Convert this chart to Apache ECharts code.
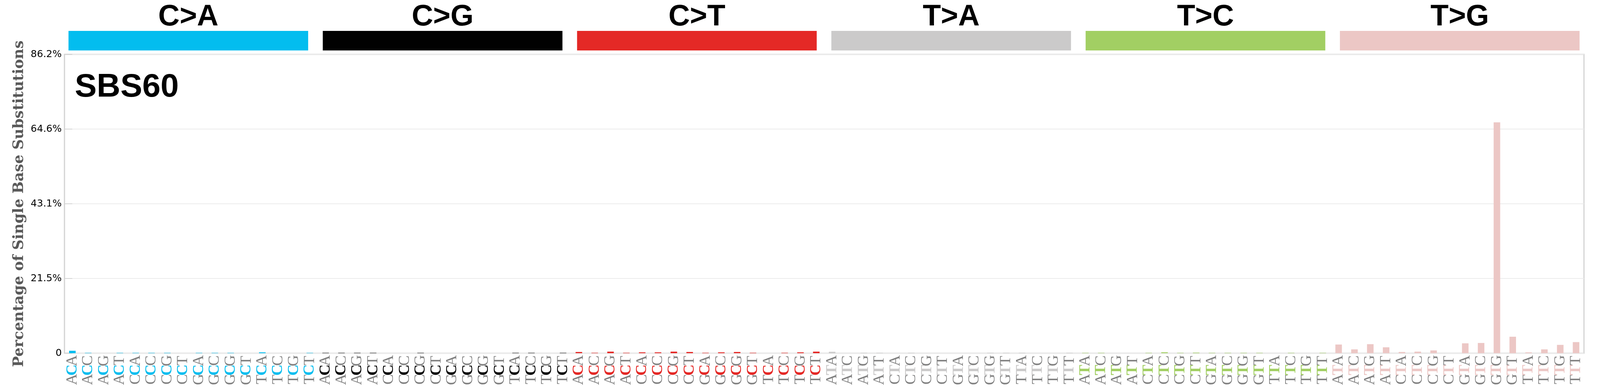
<!DOCTYPE html>
<html>
<head>
<meta charset="utf-8">
<title>SBS60</title>
<script src="https://cdn.jsdelivr.net/npm/echarts@6/dist/echarts.min.js"></script>
<style>
  html, body { margin: 0; padding: 0; background: #fff; overflow: hidden; }
  #main { width: 100vw; height: 100vh; }
</style>
</head>
<body>
<div id="main"></div>
<script>
// mutation classes and their colours
var mutTypes = ['C>A', 'C>G', 'C>T', 'T>A', 'T>C', 'T>G'];
var typeColors = ['#03bdef', '#010101', '#e42926', '#cbcaca', '#a2cf63', '#ecc7c5'];

// 5' and 3' flanking bases for the 16 contexts of each class
var flank5 = ['A','A','A','A','C','C','C','C','G','G','G','G','T','T','T','T'];
var flank3 = ['A','C','G','T','A','C','G','T','A','C','G','T','A','C','G','T'];

// percentages
var valsCA = [0.7, 0.1, 0, 0.1, 0.1, 0.1, 0.1, 0, 0.1, 0.1, 0.1, 0, 0.25, 0, 0, 0.1];
var valsCG = [0.1, 0.1, 0.1, 0.1, 0, 0, 0.1, 0, 0, 0, 0, 0, 0.1, 0.1, 0, 0.1];
var valsCT = [0.35, 0.12, 0.45, 0.12, 0.25, 0.25, 0.45, 0.35, 0.12, 0.25, 0.35, 0.12, 0, 0.12, 0.25, 0.45];
var valsTA = [0.4, 0, 0.1, 0.1, 0, 0.1, 0, 0, 0, 0, 0.1, 0.1, 0.1, 0, 0, 0.1];
var valsTC = [0.1, 0.1, 0, 0, 0.1, 0.27, 0.1, 0.15, 0.1, 0.1, 0.1, 0.1, 0, 0.1, 0, 0.1];
var valsTG = [2.5, 1.1, 2.6, 1.7, 0.35, 0.45, 0.8, 0, 2.85, 2.95, 66.6, 4.75, 0.25, 1.1, 2.4, 3.2];

var yMax = 86.2;
var yTickLabels = ['0', '21.5%', '43.1%', '64.6%', '86.2%'];

var allVals = [valsCA, valsCG, valsCT, valsTA, valsTC, valsTG];
var categories = [];
var values = [];
mutTypes.forEach(function (t, g) {
    var ref = t.charAt(0);
    for (var i = 0; i < 16; i++) {
        categories.push(flank5[i] + ref + flank3[i]);
        values.push(allVals[g][i]);
    }
});

// layout was measured on a 4393 px wide figure; scale horizontally to the real window
var sx = window.innerWidth / 4393;

// each base gets a fixed-width cell, like a typewriter font
var rich = {
    f: { fontFamily: 'Liberation Serif', fontSize: 40, color: '#808080', width: 24, align: 'center' }
};
typeColors.forEach(function (c, g) {
    rich['m' + g] = { fontFamily: 'Liberation Serif', fontSize: 40, fontWeight: 'bold', color: c, width: 24, align: 'center' };
});

var myChart = echarts.init(document.getElementById('main'));

var option = {
    animation: false,
    title: {
        text: 'SBS60',
        left: 200 * sx,
        top: 177,
        textStyle: { fontFamily: 'Liberation Sans', fontWeight: 'bold', fontSize: 84, color: '#000' }
    },
    grid: [
        { left: 177 * sx, right: 44 * sx, top: 139, bottom: 89, show: true, borderColor: '#d3d3d3', borderWidth: 3 },
        { left: 168 * sx, right: 36 * sx, top: 79, height: 50 }
    ],
    xAxis: [{
        type: 'category',
        data: categories,
        gridIndex: 0,
        axisLine: { show: false },
        axisTick: { show: false },
        axisLabel: {
            interval: 0,
            rotate: 90,
            margin: 7,
            formatter: function (v, idx) {
                var g = Math.floor(idx / 16);
                return '{f|' + v.charAt(0) + '}{m' + g + '|' + v.charAt(1) + '}{f|' + v.charAt(2) + '}';
            },
            rich: rich
        }
    }, {
        type: 'category',
        data: mutTypes,
        gridIndex: 1,
        show: false
    }],
    yAxis: [{
        type: 'value',
        gridIndex: 0,
        min: 0,
        max: yMax,
        interval: yMax / 4,
        name: 'Percentage of Single Base Substitutions',
        nameLocation: 'middle',
        nameGap: 95,
        nameTextStyle: { fontFamily: 'DejaVu Serif', fontWeight: 'bold', fontSize: 37, color: '#595959' },
        axisLine: { show: false },
        axisTick: { show: true, inside: true, length: 20, lineStyle: { color: '#d3d3d3', width: 2 } },
        axisLabel: {
            margin: 7,
            fontFamily: 'DejaVu Sans',
            fontSize: 25,
            color: '#000',
            formatter: function (v) {
                return yTickLabels[Math.round(v / (yMax / 4))];
            }
        },
        splitLine: { lineStyle: { color: '#ececec', width: 2 } }
    }, {
        type: 'value',
        gridIndex: 1,
        min: 0,
        max: 1,
        show: false
    }],
    series: [{
        type: 'bar',
        xAxisIndex: 0,
        yAxisIndex: 0,
        barWidth: 18 * sx,
        data: values,
        itemStyle: {
            color: function (p) { return typeColors[Math.floor(p.dataIndex / 16)]; }
        }
    }, {
        type: 'bar',
        xAxisIndex: 1,
        yAxisIndex: 1,
        barWidth: 658 * sx,
        data: mutTypes.map(function (t, g) {
            return { value: 1, itemStyle: { color: typeColors[g] } };
        }),
        label: {
            show: true,
            position: 'top',
            distance: -3,
            formatter: function (p) { return mutTypes[p.dataIndex]; },
            fontFamily: 'Liberation Sans',
            fontWeight: 'bold',
            fontSize: 76,
            color: '#000'
        },
        silent: true
    }]
};

myChart.setOption(option);
</script>
</body>
</html>
